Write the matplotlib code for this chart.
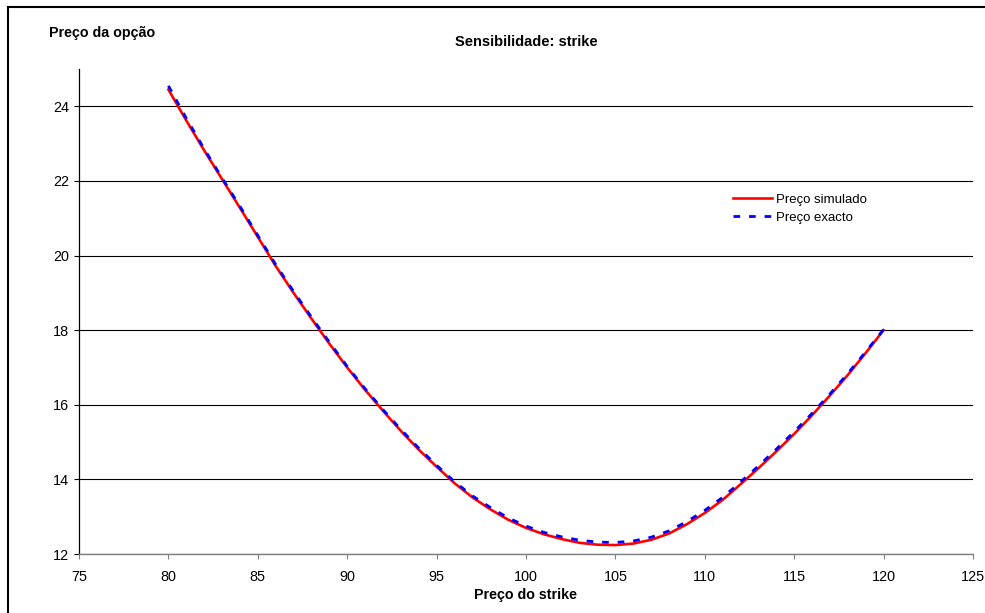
import numpy as np
import matplotlib
matplotlib.use("Agg")
import matplotlib.pyplot as plt
from matplotlib.lines import Line2D

plt.rcParams['font.family'] = ['Liberation Sans', 'DejaVu Sans']

# Preço da opção em função do strike
strike = np.arange(80, 121)
preco_simulado = [24.45, 23.62, 22.82, 22.05, 21.28, 20.50, 19.72, 19.00, 18.31, 17.64,
                  17.00, 16.40, 15.84, 15.30, 14.80, 14.34, 13.90, 13.52, 13.20, 12.92,
                  12.70, 12.53, 12.40, 12.30, 12.25, 12.24, 12.28, 12.38, 12.55, 12.80,
                  13.10, 13.45, 13.87, 14.30, 14.75, 15.22, 15.72, 16.25, 16.80, 17.39,
                  18.00]
preco_exacto = [24.55, 23.68, 22.86, 22.08, 21.32, 20.54, 19.76, 19.04, 18.35, 17.68,
                17.03, 16.43, 15.87, 15.34, 14.84, 14.38, 13.94, 13.56, 13.25, 12.97,
                12.75, 12.58, 12.46, 12.37, 12.32, 12.31, 12.35, 12.45, 12.62, 12.87,
                13.17, 13.52, 13.93, 14.36, 14.81, 15.28, 15.77, 16.29, 16.84, 17.42,
                18.02]

xticks = np.arange(75, 126, 5)
yticks = np.arange(12, 25, 2)

f = plt.figure(figsize=(9.85, 6.13), dpi=100)
ax = f.add_axes([0.0802, 0.0962, 0.9076, 0.7912])

ax.plot(strike, preco_simulado, color='#ff0000', lw=1.9, label='Preço simulado', zorder=3)
ax.plot(strike, preco_exacto, color='#0000ff', lw=2.0, dashes=(2.4, 3.2),
        label='Preço exacto', zorder=4)

ax.set_xlim(75, 125)
ax.set_ylim(12, 25)
ax.set_xticks(xticks)
ax.set_yticks(yticks)
ax.tick_params(direction='out', length=3.5, width=0.8, labelsize=10.4)
ax.tick_params(axis='x', colors='#808080', labelcolor='black', pad=8)
ax.tick_params(axis='y', colors='black', pad=3.5)

for s in ['top', 'right']:
    ax.spines[s].set_visible(False)
ax.spines['left'].set_color('black')
ax.spines['bottom'].set_color('#808080')
ax.spines['left'].set_linewidth(0.9)
ax.spines['bottom'].set_linewidth(1.0)

ax.yaxis.grid(True, color='black', lw=0.8)
ax.set_axisbelow(True)

ax.set_xlabel("Preço do strike", fontsize=10.3, fontweight='bold', labelpad=3)
f.text(0.0497, 0.946, "Preço da opção", fontsize=10.3, fontweight='bold',
       ha='left', va='center')
f.text(0.534, 0.931, "Sensibilidade: strike", fontsize=10.5, fontweight='bold',
       ha='center', va='center')

ax.legend(loc='upper left', bbox_to_anchor=(0.744, 0.684), bbox_transform=f.transFigure,
          frameon=False, fontsize=9.5, handlelength=3.0, handletextpad=0.3,
          labelspacing=0.45, borderpad=0, borderaxespad=0)

# moldura do gráfico (só topo e esquerda ficam dentro da imagem)
f.add_artist(Line2D([8 / 985, 8 / 985], [0, 1 - 7 / 613], color='black', lw=1.5,
                    transform=f.transFigure))
f.add_artist(Line2D([8 / 985, 1], [1 - 7 / 613, 1 - 7 / 613], color='black', lw=1.5,
                    transform=f.transFigure))

plt.savefig("out.png", dpi=100)
plt.close(f)
